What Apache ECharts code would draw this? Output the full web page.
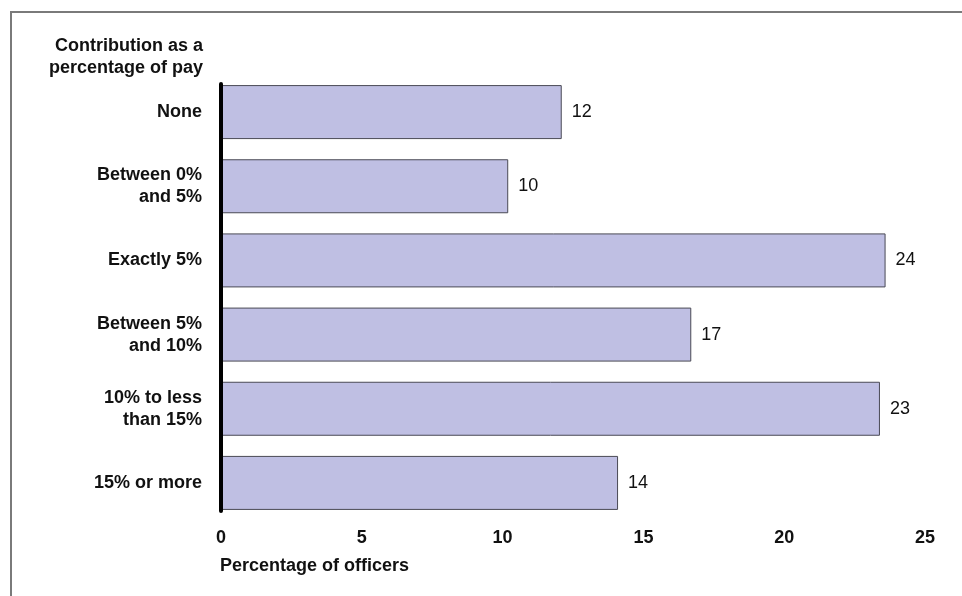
<!DOCTYPE html>
<html>
<head>
<meta charset="utf-8">
<script src="https://cdn.jsdelivr.net/npm/echarts@6/dist/echarts.min.js"></script>
<style>
  html, body { margin: 0; padding: 0; background: #fff; }
  #frame {
    position: absolute; left: 10px; top: 11px; width: 960px; height: 600px;
    border-left: 2px solid #7a7a7a; border-top: 2px solid #7a7a7a;
  }
  #main { position: absolute; left: 0; top: 0; width: 962px; height: 596px; }
</style>
</head>
<body>
<div id="frame"></div>
<div id="main"></div>
<script>
var categories = [
  "None",
  "Between 0%\nand 5%",
  "Exactly 5%",
  "Between 5%\nand 10%",
  "10% to less\nthan 15%",
  "15% or more"
];
// bar lengths as drawn, and the rounded labels printed beside them
var values = [12.1, 10.2, 23.6, 16.7, 23.4, 14.1];
var valueLabels = [12, 10, 24, 17, 23, 14];
var xTicks = [0, 5, 10, 15, 20, 25];

var font = "Liberation Sans, Arial, sans-serif";

var chart = echarts.init(document.getElementById("main"));
chart.setOption({
  backgroundColor: "transparent",
  animation: false,
  title: {
    text: "Percentage of officers",
    left: 215,
    top: 552,
    textStyle: { fontFamily: font, fontSize: 18, fontWeight: "bold", color: "#111" }
  },
  graphic: [
    {
      type: "text",
      x: 203,
      y: 35,
      style: {
        text: "Contribution as a\npercentage of pay",
        align: "right",
        font: "bold 18px " + font,
        lineHeight: 22,
        fill: "#111"
      }
    }
  ],
  grid: [
    { left: 221, right: 37, top: 75, bottom: 76, containLabel: false },
    // second grid only carries the short black axis line along the bars
    { left: 221, right: 37, top: 84, bottom: 85, containLabel: false }
  ],
  xAxis: [
    {
      type: "value",
      gridIndex: 0,
      min: 0,
      max: 25,
      interval: 5,
      axisLine: { show: false },
      axisTick: { show: false },
      splitLine: { show: false },
      axisLabel: {
        margin: 9,
        fontFamily: font, fontSize: 18, fontWeight: "bold", color: "#111",
        formatter: function (v) { return xTicks.indexOf(v) >= 0 ? String(v) : ""; }
      }
    },
    {
      type: "value",
      gridIndex: 1,
      min: 0,
      max: 25,
      show: false
    }
  ],
  yAxis: [
    {
      type: "category",
      gridIndex: 0,
      inverse: true,
      data: categories,
      axisLine: { show: false },
      axisTick: { show: false },
      axisLabel: {
        margin: 19,
        fontFamily: font, fontSize: 18, fontWeight: "bold", color: "#111", lineHeight: 22, align: "right"
      }
    },
    {
      type: "category",
      gridIndex: 1,
      inverse: true,
      data: categories,
      axisLine: { show: true, lineStyle: { color: "#000", width: 4 } },
      axisTick: { show: false },
      axisLabel: { show: false },
      z: 5
    }
  ],
  series: [
    {
      type: "bar",
      xAxisIndex: 0,
      yAxisIndex: 0,
      data: values,
      barWidth: 54,
      itemStyle: { color: "#bfbfe3", borderColor: "#4a4a55", borderWidth: 1 },
      label: {
        show: true,
        position: "right",
        distance: 10,
        fontFamily: font, fontSize: 18, color: "#111",
        formatter: function (p) { return String(valueLabels[p.dataIndex]); }
      },
      z: 1
    }
  ]
});
</script>
</body>
</html>
